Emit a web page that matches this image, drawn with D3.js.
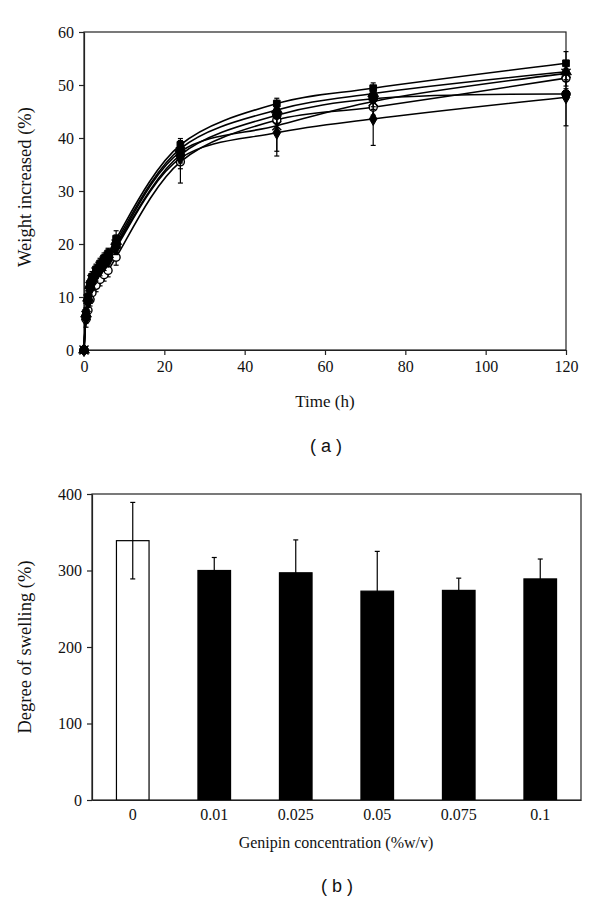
<!DOCTYPE html>
<html>
<head>
<meta charset="utf-8">
<script src="https://cdn.jsdelivr.net/npm/d3@7"></script>
<style>
  html, body { margin: 0; padding: 0; background: #fff; }
  svg { display: block; }
  .serif { font-family: "Liberation Serif", "DejaVu Serif", serif; }
  .sans { font-family: "Liberation Sans", Arial, sans-serif; }
</style>
</head>
<body>
<svg id="chart" width="600" height="908"></svg>
<script>
// ---------- Panel (a) data ----------
const times = [0, 0.5, 1, 1.5, 2, 3, 4, 5, 6, 8, 24, 48, 72, 120];
const seriesSquare   = [0, 7.0, 10.0, 12.5, 13.8, 15.2, 16.3, 17.3, 18.2, 21.0, 38.7, 46.5, 49.4, 54.1];
const seriesTriangle = [0, 6.8, 9.8, 12.2, 13.5, 15.0, 16.0, 17.0, 18.0, 20.5, 38.0, 45.3, 48.4, 52.5];
const seriesCross    = [0, 6.5, 9.6, 12.0, 13.3, 14.7, 15.8, 16.8, 17.7, 20.0, 37.4, 42.3, 46.9, 52.2];
const seriesCircle   = [0, 6.3, 9.4, 11.8, 13.0, 14.5, 15.6, 16.5, 17.4, 19.7, 36.8, 44.3, 47.4, 48.3];
const seriesDiamond  = [0, 6.0, 9.0, 11.3, 12.5, 14.0, 15.0, 16.0, 16.8, 19.3, 36.2, 41.0, 43.6, 47.7];
const seriesOpen     = [0, 5.8, 7.5, 9.5, 10.8, 12.2, 13.3, 14.2, 15.0, 17.5, 35.5, 43.4, 45.8, 51.3];

const errSquare   = [0, 1.0, 1.0, 1.0, 1.0, 1.0, 1.0, 1.0, 1.0, 1.5, 1.2, 1.0, 1.0, 2.2];
const errTriangle = [0, 1.0, 1.0, 1.0, 1.0, 1.0, 1.0, 1.0, 1.0, 1.2, 1.5, 1.2, 1.2, 1.5];
const errCross    = [0, 1.2, 1.0, 1.0, 1.0, 1.0, 1.0, 1.0, 1.0, 1.5, 1.5, 4.8, 1.5, 1.5];
const errCircle   = [0, 1.0, 1.0, 1.0, 1.0, 1.0, 1.0, 1.0, 1.0, 1.3, 1.5, 1.5, 1.5, 1.0];
const errDiamond  = [0, 1.0, 1.0, 1.0, 1.0, 1.0, 1.0, 1.0, 1.0, 1.3, 2.0, 4.4, 5.0, 5.4];
const errOpen     = [0, 1.5, 1.2, 1.2, 1.2, 1.2, 1.2, 1.2, 1.2, 1.5, 4.0, 2.0, 1.5, 1.5];

const xTicksA = [0, 20, 40, 60, 80, 100, 120];
const yTicksA = [0, 10, 20, 30, 40, 50, 60];

// ---------- Panel (b) data ----------
const concentrations = ["0", "0.01", "0.025", "0.05", "0.075", "0.1"];
const swelling       = [339, 300, 297, 273, 274, 289];
const swellingErr    = [50, 17, 43, 52, 16, 26];
const yTicksB = [0, 100, 200, 300, 400];

const svg = d3.select("#chart");

// ===================== Panel (a) =====================
const A = { left: 84, right: 566, top: 32, bottom: 350 };
const xA = d3.scaleLinear().domain([0, 120]).range([A.left, A.right]);
const yA = d3.scaleLinear().domain([0, 60]).range([A.bottom, A.top]);

const gA = svg.append("g");
gA.append("rect").attr("x", A.left).attr("y", A.top)
  .attr("width", A.right - A.left).attr("height", A.bottom - A.top)
  .attr("fill", "none").attr("stroke", "#222").attr("stroke-width", 1.2);

const axA_x = gA.append("g").attr("transform", `translate(0,${A.bottom})`)
  .call(d3.axisBottom(xA).tickValues(xTicksA).tickSize(5).tickPadding(6).tickSizeOuter(0));
const axA_y = gA.append("g").attr("transform", `translate(${A.left},0)`)
  .call(d3.axisLeft(yA).tickValues(yTicksA).tickSize(5).tickPadding(5).tickSizeOuter(0));
[axA_x, axA_y].forEach(ax => {
  ax.select(".domain").attr("stroke", "#222").attr("stroke-width", 1.2);
  ax.selectAll(".tick line").attr("stroke", "#222").attr("stroke-width", 1.2);
  ax.selectAll(".tick text").attr("class", "serif").attr("font-size", 16).attr("fill", "#111");
});

gA.append("text").attr("class", "serif").attr("x", (A.left + A.right) / 2).attr("y", 407)
  .attr("text-anchor", "middle").attr("font-size", 17).attr("fill", "#111").text("Time (h)");
gA.append("text").attr("class", "serif")
  .attr("transform", `translate(31,${(A.top + A.bottom) / 2 - 4}) rotate(-90)`)
  .attr("text-anchor", "middle").attr("font-size", 18.5).attr("fill", "#111").text("Weight increased (%)");
gA.append("text").attr("class", "sans").attr("x", 326).attr("y", 452)
  .attr("text-anchor", "middle").attr("font-size", 18).attr("fill", "#111").text("( a )");

// open-circle series drawn first so filled markers sit on top of it
const seriesList = [
  { vals: seriesOpen,     err: errOpen,     sym: d3.symbolCircle,   fill: false, size: 50 },
  { vals: seriesSquare,   err: errSquare,   sym: d3.symbolSquare,   fill: true,  size: 45 },
  { vals: seriesTriangle, err: errTriangle, sym: d3.symbolTriangle, fill: true,  size: 50 },
  { vals: seriesCross,    err: errCross,    sym: d3.symbolX,        fill: false, size: 55 },
  { vals: seriesCircle,   err: errCircle,   sym: d3.symbolCircle,   fill: true,  size: 60 },
  { vals: seriesDiamond,  err: errDiamond,  sym: d3.symbolDiamond,  fill: true,  size: 50 }
];

const line = d3.line()
  .x(d => xA(d.t)).y(d => yA(d.v))
  .curve(d3.curveCatmullRom.alpha(0.5));

seriesList.forEach(s => {
  const pts = times.map((t, i) => ({ t, v: s.vals[i], e: s.err[i] }));
  const g = gA.append("g");
  pts.forEach(p => {
    if (p.e <= 0) return;
    const x = xA(p.t);
    g.append("line").attr("x1", x).attr("x2", x)
      .attr("y1", yA(p.v - p.e)).attr("y2", yA(p.v + p.e))
      .attr("stroke", "#000").attr("stroke-width", 1.2);
    [p.v - p.e, p.v + p.e].forEach(v => {
      g.append("line").attr("x1", x - 2.5).attr("x2", x + 2.5)
        .attr("y1", yA(v)).attr("y2", yA(v))
        .attr("stroke", "#000").attr("stroke-width", 1.2);
    });
  });
  g.append("path").datum(pts).attr("d", line)
    .attr("fill", "none").attr("stroke", "#000").attr("stroke-width", 1.6);
  g.selectAll("path.m").data(pts).join("path").attr("class", "m")
    .attr("transform", d => `translate(${xA(d.t)},${yA(d.v)})`)
    .attr("d", d3.symbol().type(s.sym).size(s.size))
    .attr("fill", s.fill ? "#000" : "#fff")
    .attr("stroke", "#000").attr("stroke-width", s.fill ? 1 : 1.4);
});

// ===================== Panel (b) =====================
const B = { left: 92, right: 581, top: 494, bottom: 800 };
const xB = d3.scaleBand().domain(concentrations).range([B.left, B.right])
  .paddingInner(0.6).paddingOuter(0.3);
const yB = d3.scaleLinear().domain([0, 400]).range([B.bottom, B.top]);

const gB = svg.append("g");
gB.append("rect").attr("x", B.left).attr("y", B.top)
  .attr("width", B.right - B.left).attr("height", B.bottom - B.top)
  .attr("fill", "none").attr("stroke", "#222").attr("stroke-width", 1.2);

gB.selectAll("rect.bar").data(concentrations).join("rect").attr("class", "bar")
  .attr("x", d => xB(d)).attr("width", xB.bandwidth())
  .attr("y", (d, i) => yB(swelling[i]))
  .attr("height", (d, i) => yB(0) - yB(swelling[i]))
  .attr("fill", (d, i) => i === 0 ? "#fff" : "#000")
  .attr("stroke", "#000").attr("stroke-width", 1.2);

concentrations.forEach((c, i) => {
  const x = xB(c) + xB.bandwidth() / 2;
  const lo = swelling[i] - swellingErr[i], hi = swelling[i] + swellingErr[i];
  gB.append("line").attr("x1", x).attr("x2", x).attr("y1", yB(lo)).attr("y2", yB(hi))
    .attr("stroke", "#000").attr("stroke-width", 1.2);
  [lo, hi].forEach(v => gB.append("line").attr("x1", x - 2.5).attr("x2", x + 2.5)
    .attr("y1", yB(v)).attr("y2", yB(v)).attr("stroke", "#000").attr("stroke-width", 1.2));
});

const axB_x = gB.append("g").attr("transform", `translate(0,${B.bottom})`)
  .call(d3.axisBottom(xB).tickSize(0).tickPadding(9).tickSizeOuter(0));
const axB_y = gB.append("g").attr("transform", `translate(${B.left},0)`)
  .call(d3.axisLeft(yB).tickValues(yTicksB).tickSize(5).tickPadding(5).tickSizeOuter(0));
[axB_x, axB_y].forEach(ax => {
  ax.select(".domain").attr("stroke", "#222").attr("stroke-width", 1.2);
  ax.selectAll(".tick line").attr("stroke", "#222").attr("stroke-width", 1.2);
  ax.selectAll(".tick text").attr("class", "serif").attr("font-size", 16).attr("fill", "#111");
});

gB.append("text").attr("class", "serif").attr("x", 336).attr("y", 848)
  .attr("text-anchor", "middle").attr("font-size", 16).attr("fill", "#111").text("Genipin concentration (%w/v)");
gB.append("text").attr("class", "serif")
  .attr("transform", `translate(31,${(B.top + B.bottom) / 2}) rotate(-90)`)
  .attr("text-anchor", "middle").attr("font-size", 18.5).attr("fill", "#111").text("Degree of swelling (%)");
gB.append("text").attr("class", "sans").attr("x", 337).attr("y", 892)
  .attr("text-anchor", "middle").attr("font-size", 18).attr("fill", "#111").text("( b )");
</script>
</body>
</html>
